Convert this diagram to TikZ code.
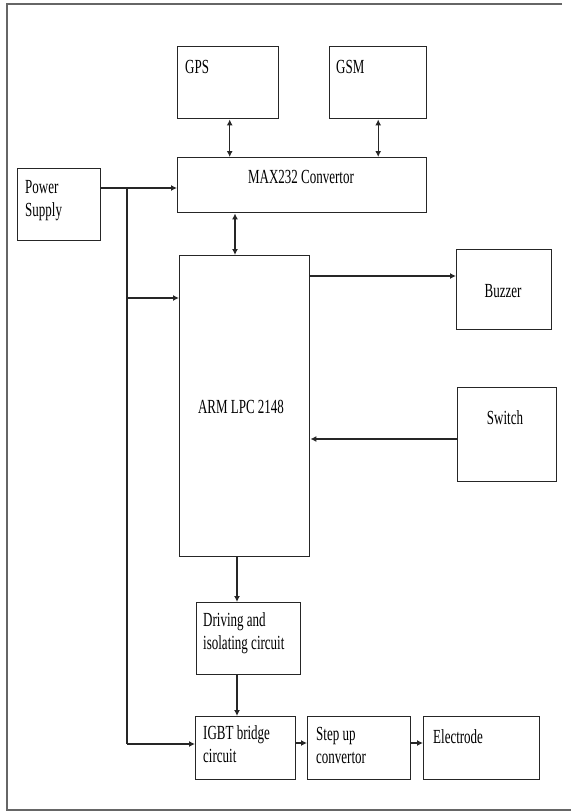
\documentclass[tikz,border=0pt]{standalone}
\usepackage{fontspec}
\setmainfont[FakeStretch=0.65]{Liberation Serif}
\usetikzlibrary{arrows.meta}
\begin{document}
\begin{tikzpicture}[x=1pt,y=-1pt,
  blk/.style={draw=black!85,line width=1.4pt,anchor=north west,inner sep=0pt,fill=white},
  txt/.style={inner sep=0pt,font=\fontsize{20}{23}\selectfont,text=black},
  arr/.style={line width=1.2pt,draw=black!85,-{Latex[length=6pt,width=6pt]}},
  darr/.style={line width=1.2pt,draw=black!85,{Latex[length=6pt,width=6pt]}-{Latex[length=6pt,width=6pt]}},
  ln/.style={line width=1.2pt,draw=black!85}]
\useasboundingbox (0,0) rectangle (571,812);
% frame
\draw[line width=1.5pt,draw=black!60] (562,4) -- (7,4) -- (7,810) -- (571,810);
% boxes
\node[blk,minimum width=83pt,minimum height=72pt] (ps) at (17,168) {};
\node[blk,minimum width=101pt,minimum height=72pt] (gps) at (177,46) {};
\node[blk,minimum width=97pt,minimum height=72pt] (gsm) at (329,46) {};
\node[blk,minimum width=249pt,minimum height=55pt] (max) at (177,157) {};
\node[blk,minimum width=130pt,minimum height=301pt] (arm) at (179,255) {};
\node[blk,minimum width=95pt,minimum height=80pt] (buz) at (456,249) {};
\node[blk,minimum width=99pt,minimum height=94pt] (sw) at (457,387) {};
\node[blk,minimum width=104pt,minimum height=72pt] (drv) at (196,602) {};
\node[blk,minimum width=100pt,minimum height=63pt] (igbt) at (195,716) {};
\node[blk,minimum width=103pt,minimum height=63pt] (step) at (307,716) {};
\node[blk,minimum width=116pt,minimum height=63pt] (elec) at (423,716) {};
% texts
\node[txt,anchor=base west] (tps) at (25,193) {\begin{tabular}[t]{@{}l@{}}Power\\Supply\end{tabular}};
\node[txt,anchor=base west] (tgps) at (185,73) {GPS};
\node[txt,anchor=base west] (tgsm) at (336,73) {GSM};
\node[txt,anchor=base] (tmax) at (301,183) {MAX232 Convertor};
\node[txt,anchor=base] (tarm) at (241,413) {ARM LPC 2148};
\node[txt,anchor=base] (tbuz) at (503,297) {Buzzer};
\node[txt,anchor=base] (tsw) at (505,424) {Switch};
\node[txt,anchor=base west] (tdrv) at (203,626) {\begin{tabular}[t]{@{}l@{}}Driving and\\isolating circuit\end{tabular}};
\node[txt,anchor=base west] (tigbt) at (203,739) {\begin{tabular}[t]{@{}l@{}}IGBT bridge\\circuit\end{tabular}};
\node[txt,anchor=base west] (tstep) at (316,740) {\begin{tabular}[t]{@{}l@{}}Step up\\convertor\end{tabular}};
\node[txt,anchor=base west] (telec) at (433,743) {Electrode};
% helper coordinates
\coordinate (j1) at (127,188);
\coordinate (j2) at (127,298);
\coordinate (j3) at (127,744);
\coordinate (a1) at (235,0);
\coordinate (d1) at (237,0);
\coordinate (b1) at (0,276);
\coordinate (s1) at (0,439);
\coordinate (e1) at (0,743);
% connectors
\draw[arr] (ps.east |- j1) -- (max.west |- j1);
\draw[ln] (j1) -- (j3);
\draw[arr] (j2) -- (arm.west |- j2);
\draw[arr] (j3) -- (igbt.west |- j3);
\draw[darr] ([xshift=1.5pt]gps.south) -- ([xshift=1.5pt]gps.south |- max.north);
\draw[darr] (gsm.south) -- (gsm.south |- max.north);
\draw[darr] (max.south -| a1) -- (arm.north -| a1);
\draw[arr] (arm.east |- b1) -- (buz.west |- b1);
\draw[arr] (sw.west |- s1) -- (arm.east |- s1);
\draw[arr] (arm.south -| d1) -- (drv.north -| d1);
\draw[arr] (drv.south -| d1) -- (igbt.north -| d1);
\draw[arr] (igbt.east |- e1) -- (step.west |- e1);
\draw[arr] (step.east |- e1) -- (elec.west |- e1);
\end{tikzpicture}
\end{document}
